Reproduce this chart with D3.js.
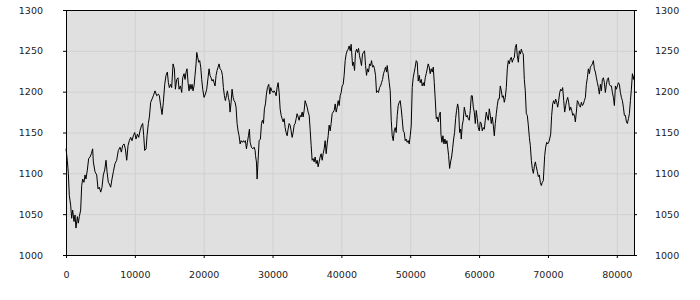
<!DOCTYPE html>
<html>
<head>
<meta charset="utf-8">
<script src="https://cdn.jsdelivr.net/npm/d3@7"></script>
<style>
body { margin: 0; background: #fff; }
#chart text { font-family: "DejaVu Sans", sans-serif; font-size: 9.5px; fill: #222; }
</style>
</head>
<body>
<svg id="chart"></svg>
<script>
const xTicks = [0, 10000, 20000, 30000, 40000, 50000, 60000, 70000, 80000];
const yTicks = [1000, 1050, 1100, 1150, 1200, 1250, 1300];
const xMax = 82500;

// sample positions (x) and values (y)
const seriesX = [
  0, 190, 340, 480, 680, 820, 970, 1160, 1310, 1450, 1650, 1790, 1940, 2130, 2280, 2420, 2610, 2760, 2900, 3100,
  3290, 3490, 3680, 3870, 3970, 4210, 4460, 4650, 4840, 5040, 5230, 5420, 5620, 5810, 5960, 6150, 6300, 6490, 6680, 6880,
  7120, 7360, 7600, 7850, 8040, 8230, 8430, 8620, 8820, 9010, 9200, 9400, 9590, 9780, 9980, 10170, 10370, 10560, 10750, 10950,
  11140, 11290, 11430, 11630, 11770, 11960, 12110, 12300, 12500, 12690, 12930, 13180, 13420,
  13560, 13750, 13950, 14140, 14340, 14530, 14720, 14870, 15010, 15210, 15350, 15550, 15740, 15890, 16080, 16270, 16420, 16610, 16810, 16950,
  17150, 17290, 17440, 17580, 17730, 17870, 18020, 18160, 18310, 18450, 18600, 18740, 18890, 18990, 19130, 19280, 19420, 19570, 19710, 19860,
  20050, 20250, 20440, 20630, 20780, 20920, 21070, 21220, 21360, 21510, 21650, 21800, 21940, 22090, 22230, 22380, 22570, 22720, 22860, 23010,
  23150, 23300, 23440, 23590, 23730, 23830, 23980, 24120, 24270, 24410, 24560, 24700, 24850, 24990, 25140, 25290, 25430, 25620, 25770, 25910,
  26060, 26210, 26350, 26500, 26640, 26740, 26930, 27130, 27320, 27470,
  27520, 27660, 27760, 27900, 28050, 28240, 28390, 28530, 28680, 28820, 28970, 29110, 29260, 29450, 29600, 29740, 29890, 30080, 30230, 30370,
  30520, 30660, 30810, 30960, 31100, 31250, 31390, 31540, 31680, 31830, 31970, 32120, 32260, 32410, 32550, 32700, 32850, 32990, 33140, 33280,
  33430, 33570, 33720, 33860, 34010, 34150, 34300, 34440, 34590, 34730, 34880, 35030, 35170, 35320, 35460, 35610, 35750, 35900, 36040, 36190,
  36330, 36480, 36620, 36770, 36910, 37060, 37210, 37350, 37500, 37640, 37790, 37930, 38080, 38220, 38370, 38510, 38660, 38800, 38950, 39100,
  39240, 39390, 39530, 39680, 39820, 39970, 40110, 40260, 40400, 40550, 40690, 40840, 40980, 41130, 41280, 41420,
  41620, 41760, 41910, 42050, 42200, 42340, 42490, 42630, 42780, 42920, 43070, 43210, 43360, 43510, 43650, 43800, 43940, 44090, 44230, 44380,
  44520, 44670, 44810, 44960, 45100, 45250, 45390, 45540, 45690, 45830, 45980, 46120, 46270, 46410, 46560, 46650, 46800, 46950, 47090, 47240,
  47380, 47530, 47670, 47820, 47960, 48110, 48250, 48400, 48540, 48690, 48830, 48980, 49130, 49270, 49420, 49560, 49710, 49850, 50000, 50140,
  50290, 50430, 50580, 50720, 50870, 51020, 51160, 51310, 51450, 51600, 51740, 51890, 52030, 52180, 52320, 52470, 52610, 52760, 52900, 53050,
  53200, 53340, 53490, 53630, 53780, 53920, 54070, 54210, 54360, 54460, 54600, 54750, 54890, 55040, 55180, 55330,
  55570, 55720, 55860, 56010, 56150, 56300, 56440, 56590, 56730, 56880, 57020, 57170, 57320, 57410, 57560, 57700, 57850, 57990, 58140, 58280,
  58430, 58570, 58720, 58870, 59010, 59160, 59300, 59450, 59590, 59740, 59880, 60030, 60170, 60320, 60460, 60610, 60760, 60900, 61050, 61190,
  61340, 61480, 61630, 61770, 61920, 62060, 62210, 62350, 62500, 62640, 62790, 62930, 63080, 63230, 63370, 63520, 63660, 63810, 63950, 64100,
  64240, 64390, 64530, 64680, 64820, 64970, 65120, 65260, 65410, 65550, 65700, 65840, 65990, 66130, 66280, 66420, 66570, 66710, 66860, 67000,
  67150, 67300, 67440, 67590, 67730, 67880, 68020, 68170, 68310, 68460, 68600, 68750, 68890, 69040, 69180, 69330,
  69530, 69670, 69820, 69960, 70110, 70250, 70400, 70540, 70690, 70830, 70980, 71120, 71270, 71420, 71560, 71710, 71850, 72000, 72140, 72290,
  72430, 72580, 72720, 72870, 73010, 73160, 73300, 73450, 73600, 73740, 73890, 73980, 74130, 74270, 74420, 74560, 74710, 74860, 75000, 75150,
  75290, 75440, 75580, 75730, 75870, 76020, 76160, 76310, 76450, 76600, 76740, 76890, 77040, 77180, 77330, 77470, 77620, 77760, 77910, 78050,
  78200, 78340, 78490, 78630, 78780, 78920, 79070, 79220, 79360, 79510, 79650, 79800, 79940, 80090, 80230, 80380, 80520, 80670, 80810, 80960,
  81100, 81250, 81400, 81540, 81690, 81830, 81980, 82120, 82270, 82410, 82510
];
const seriesY = [
  1130, 1116, 1100, 1073, 1061, 1045, 1055, 1041, 1049, 1033, 1047, 1039, 1047, 1055, 1085, 1093, 1089, 1098, 1093, 1104,
  1118, 1120, 1124, 1130, 1114, 1102, 1098, 1081, 1083, 1077, 1083, 1098, 1104, 1116, 1102, 1089, 1087, 1083, 1093, 1102,
  1112, 1116, 1128, 1132, 1126, 1134, 1136, 1130, 1116, 1134, 1140, 1144, 1140, 1146, 1150, 1142, 1148, 1144, 1152, 1158,
  1161, 1146, 1128, 1130, 1146, 1161, 1169, 1187, 1191, 1195, 1201, 1195, 1197,
  1195, 1183, 1172, 1187, 1209, 1220, 1224, 1211, 1205, 1209, 1205, 1234, 1228, 1203, 1215, 1217, 1203, 1207, 1199, 1217,
  1222, 1215, 1224, 1228, 1211, 1201, 1209, 1203, 1209, 1201, 1207, 1220, 1234, 1248, 1242, 1236, 1238, 1230, 1215, 1203,
  1193, 1197, 1203, 1217, 1228, 1220, 1217, 1213, 1215, 1211, 1207, 1220, 1226, 1230, 1234, 1228, 1226, 1220, 1205, 1195,
  1189, 1195, 1201, 1193, 1187, 1175, 1187, 1203, 1193, 1189, 1187, 1181, 1161, 1152, 1146, 1136, 1140, 1138, 1140, 1138,
  1140, 1130, 1138, 1146, 1154, 1138, 1132, 1130, 1132, 1128,
  1122, 1114, 1093, 1116, 1140, 1142, 1161, 1165, 1161, 1179, 1185, 1197, 1205, 1209, 1197, 1205, 1201, 1199, 1201, 1199,
  1195, 1205, 1211, 1199, 1179, 1171, 1167, 1163, 1167, 1156, 1150, 1146, 1154, 1161, 1159, 1152, 1144, 1150, 1159, 1161,
  1167, 1173, 1169, 1165, 1171, 1169, 1175, 1169, 1177, 1189, 1185, 1181, 1175, 1171, 1154, 1134, 1116, 1118, 1114, 1120,
  1112, 1116, 1108, 1114, 1120, 1124, 1116, 1124, 1130, 1140, 1124, 1136, 1146, 1159, 1152, 1161, 1173, 1175, 1177, 1185,
  1175, 1181, 1189, 1183, 1195, 1199, 1207, 1209, 1220, 1238, 1246, 1250, 1252, 1256, 1250, 1258,
  1232, 1236, 1226, 1248, 1252, 1248, 1253, 1244, 1238, 1232, 1246, 1248, 1250, 1232, 1220, 1228, 1224, 1234, 1232, 1238,
  1230, 1232, 1228, 1220, 1199, 1201, 1199, 1205, 1207, 1211, 1215, 1222, 1226, 1230, 1224, 1232, 1222, 1211, 1201, 1165,
  1146, 1140, 1152, 1156, 1150, 1171, 1183, 1187, 1189, 1179, 1167, 1152, 1150, 1140, 1142, 1138, 1140, 1136, 1146, 1158,
  1205, 1217, 1224, 1230, 1238, 1236, 1213, 1220, 1211, 1215, 1207, 1211, 1207, 1217, 1222, 1228, 1234, 1230, 1222, 1228,
  1224, 1230, 1211, 1191, 1167, 1169, 1163, 1171, 1175, 1148, 1138, 1146, 1136, 1142, 1136, 1140,
  1122, 1106, 1114, 1120, 1130, 1142, 1150, 1167, 1177, 1185, 1179, 1150, 1154, 1142, 1159, 1165, 1181, 1175, 1169, 1171,
  1167, 1165, 1177, 1195, 1195, 1181, 1175, 1161, 1177, 1167, 1156, 1152, 1163, 1161, 1152, 1156, 1154, 1165, 1175, 1169,
  1165, 1179, 1171, 1161, 1169, 1159, 1146, 1161, 1173, 1183, 1191, 1191, 1207, 1201, 1193, 1195, 1187, 1193, 1205, 1228,
  1238, 1234, 1240, 1242, 1236, 1240, 1242, 1254, 1258, 1244, 1236, 1250, 1246, 1252, 1248, 1246, 1215, 1201, 1173, 1171,
  1159, 1144, 1134, 1116, 1106, 1100, 1108, 1114, 1108, 1102, 1096, 1098, 1089, 1085, 1089, 1091,
  1122, 1132, 1138, 1136, 1138, 1142, 1148, 1171, 1185, 1189, 1185, 1191, 1187, 1181, 1189, 1199, 1203, 1201, 1205, 1189,
  1175, 1183, 1189, 1193, 1187, 1177, 1181, 1177, 1171, 1173, 1169, 1163, 1175, 1189, 1187, 1183, 1181, 1187, 1183, 1185,
  1189, 1193, 1209, 1217, 1228, 1222, 1230, 1232, 1234, 1238, 1228, 1224, 1217, 1211, 1205, 1197, 1209, 1201, 1215, 1217,
  1211, 1199, 1209, 1215, 1217, 1209, 1207, 1207, 1199, 1193, 1183, 1207, 1203, 1207, 1211, 1209, 1199, 1193, 1189, 1181,
  1171, 1171, 1163, 1161, 1167, 1173, 1189, 1203, 1222, 1215, 1220
];

const svgWidth = 700, svgHeight = 300;
const margin = {top: 10, left: 66},
    width = 568,
    height = 245;

const chart = d3.select('#chart')
    .attr("width", svgWidth)
    .attr("height", svgHeight);

const g = chart.append("g")
    .attr("transform", `translate(${margin.left},${margin.top})`);

var xScale = d3.scaleLinear().domain([0, xMax]).range([0, width]);
var yScale = d3.scaleLinear().domain([1000, 1300]).range([height, 0]);
var fmt = d3.format("d");

// plot background
g.append("rect")
    .attr("width", width)
    .attr("height", height)
    .attr("fill", "#e0e0e0");

// grid
g.append("g")
    .attr("transform", `translate(0,${height})`)
    .call(d3.axisBottom(xScale).tickValues(xTicks).tickSize(-height).tickFormat(""))
    .call(s => s.select(".domain").remove())
    .call(s => s.selectAll("line").attr("stroke", "#d0d0d0"));
g.append("g")
    .call(d3.axisLeft(yScale).tickValues(yTicks).tickSize(-width).tickFormat(""))
    .call(s => s.select(".domain").remove())
    .call(s => s.selectAll("line").attr("stroke", "#d0d0d0"));

// the series
var valueline = d3.line()
    .x((d, i) => xScale(seriesX[i]))
    .y(d => yScale(d));
g.append("path")
    .datum(seriesY)
    .attr("d", valueline)
    .attr("fill", "none")
    .attr("stroke", "#000")
    .attr("stroke-width", 1);

// frame
g.append("rect")
    .attr("x", 0.5).attr("y", 0.5)
    .attr("width", width).attr("height", height)
    .attr("fill", "none")
    .attr("stroke", "#000");

// axes
g.append("g")
    .attr("transform", `translate(0,${height})`)
    .call(d3.axisBottom(xScale).tickValues(xTicks).tickSize(3).tickPadding(13).tickFormat(fmt))
    .call(s => s.select(".domain").remove());
g.append("g")
    .call(d3.axisLeft(yScale).tickValues(yTicks).tickSize(3).tickPadding(20).tickFormat(fmt))
    .call(s => s.select(".domain").remove());
g.append("g")
    .attr("transform", `translate(${width},0)`)
    .call(d3.axisRight(yScale).tickValues(yTicks).tickSize(3).tickPadding(18).tickFormat(fmt))
    .call(s => s.select(".domain").remove());

chart.selectAll(".tick text").attr("font-family", null).attr("font-size", null);
</script>
</body>
</html>
